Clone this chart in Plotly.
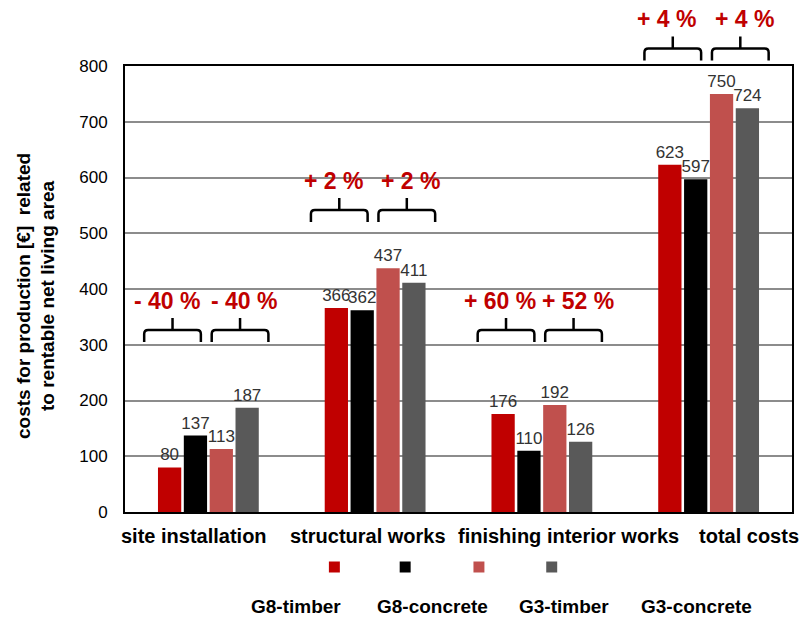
import plotly.graph_objects as go

# ---------------- data ----------------
categories = ["site installation", "structural works", "finishing interior works", "total costs"]
series_names = ["G8-timber", "G8-concrete", "G3-timber", "G3-concrete"]
g8_timber = [80, 366, 176, 623]
g8_concrete = [137, 362, 110, 597]
g3_timber = [113, 437, 192, 750]
g3_concrete = [187, 411, 126, 724]
pct_g8 = ["- 40 %", "+ 2 %", "+ 60 %", "+ 4 %"]
pct_g3 = ["- 40 %", "+ 2 %", "+ 52 %", "+ 4 %"]
y_ticks = [0, 100, 200, 300, 400, 500, 600, 700, 800]

# ---------------- styling / layout ----------------
colors = ["#c00000", "#000000", "#c0504d", "#595959"]
FONT = "Arial, 'Liberation Sans', sans-serif"
W, H = 801, 618
ML, MR, MT, MB = 125, 7, 66, 106
PW = W - ML - MR
PH = H - MT - MB
YMAX = 800
brace_levels = [305, 520, 305, 810]  # value level of brace feet (annotation layout)
label_xshift = [-14, -7, 27, 40]

series_values = [g8_timber, g8_concrete, g3_timber, g3_concrete]
xs = list(range(len(categories)))

fig = go.Figure()
for name, vals, col in zip(series_names, series_values, colors):
    fig.add_trace(go.Bar(
        x=xs, y=vals, name=name, marker=dict(color=col, line=dict(width=0)),
        text=[str(v) for v in vals], textposition="outside",
        textfont=dict(family=FONT, size=17, color="#333333"),
        constraintext="none", cliponaxis=False, showlegend=False,
    ))


def px_x(p):
    return p / PW


def px_y(p):
    return p / PH


def cat_paper(i, off=0.0):
    return (i + 0.5 + off) / len(categories)


shapes = []
annotations = []
# braces + percentage labels
for i in xs:
    base = brace_levels[i] / YMAX
    h = px_y(12)
    stem = px_y(12)
    for (o0, o1, txt, tsh) in [(-0.385, -0.045, pct_g8[i], -6), (0.02, 0.36, pct_g3[i], 4)]:
        x0 = cat_paper(i, o0)
        x1 = cat_paper(i, o1)
        xc = (x0 + x1) / 2
        r = px_x(4)
        rv = px_y(4)
        path = (f"M {x0},{base} L {x0},{base + h - rv} Q {x0},{base + h} {x0 + r},{base + h} "
                f"L {x1 - r},{base + h} Q {x1},{base + h} {x1},{base + h - rv} L {x1},{base} "
                f"M {xc},{base + h} L {xc},{base + h + stem}")
        shapes.append(dict(type="path", xref="paper", yref="paper", path=path,
                           line=dict(color="black", width=2.5)))
        annotations.append(dict(xref="paper", yref="paper", x=xc, y=base + px_y(41),
                                xshift=tsh, text=f"<b>{txt}</b>", showarrow=False,
                                xanchor="center", yanchor="middle",
                                font=dict(family=FONT, size=23, color="#c00000")))

# category labels
for i, c in enumerate(categories):
    annotations.append(dict(xref="paper", yref="paper", x=cat_paper(i), y=-px_y(24),
                            xshift=label_xshift[i], text=f"<b>{c}</b>", showarrow=False,
                            xanchor="center", yanchor="middle",
                            font=dict(family=FONT, size=20, color="black")))

# custom legend (squares row + labels row)
sq_px = [335, 406, 480, 553]
lab_px = [297, 433, 565, 698]
for name, col, sx, lx in zip(series_names, colors, sq_px, lab_px):
    cx = px_x(sx - ML)
    cy = -px_y(567 - (MT + PH))
    shapes.append(dict(type="rect", xref="paper", yref="paper",
                       x0=cx - px_x(5.5), x1=cx + px_x(5.5),
                       y0=cy - px_y(5.5), y1=cy + px_y(5.5),
                       fillcolor=col, line=dict(width=0)))
    annotations.append(dict(xref="paper", yref="paper", x=px_x(lx - ML),
                            y=-px_y(606 - (MT + PH)), text=f"<b>{name}</b>",
                            showarrow=False, xanchor="center", yanchor="middle",
                            font=dict(family=FONT, size=19, color="black")))

# y-axis title
annotations.append(dict(xref="paper", yref="paper", x=px_x(35 - ML), y=0.485,
                        text="<b>costs for production [€]  related<br>to rentable net living area</b>",
                        textangle=-90, showarrow=False, xanchor="center", yanchor="middle",
                        font=dict(family=FONT, size=19, color="black")))

fig.update_layout(
    width=W, height=H,
    margin=dict(l=ML, r=MR, t=MT, b=MB, pad=0),
    paper_bgcolor="white", plot_bgcolor="white",
    barmode="group", bargap=0.38, bargroupgap=0.1,
    font=dict(family=FONT, color="black"),
    shapes=shapes, annotations=annotations,
    showlegend=False,
    xaxis=dict(range=[-0.5, len(categories) - 0.5], showticklabels=False, ticks="",
               showgrid=False, zeroline=False, showline=True, linecolor="black",
               linewidth=2, mirror=True),
    yaxis=dict(range=[0, YMAX], tickvals=y_ticks, ticks="", ticklabelstandoff=12,
               tickfont=dict(family=FONT, size=17, color="black"),
               showgrid=True, gridcolor="#8c8c8c", gridwidth=2, zeroline=False,
               showline=True, linecolor="black", linewidth=2, mirror=True),
)

fig.write_html("out.html")
